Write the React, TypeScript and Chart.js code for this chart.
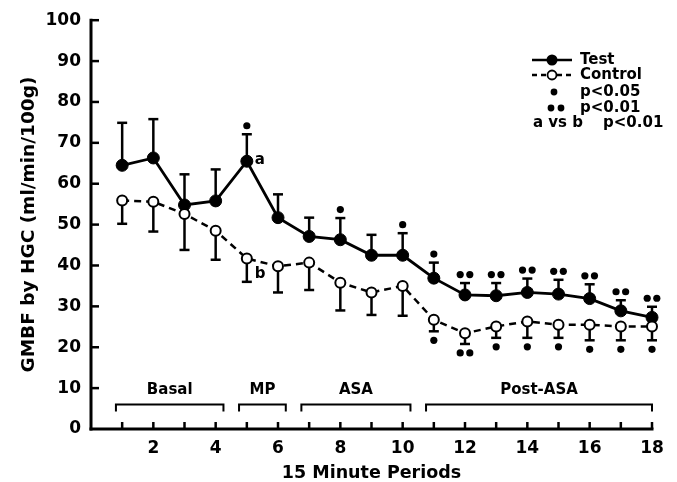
import React, { useEffect, useRef } from 'react';
import { Chart, registerables } from 'chart.js';

Chart.register(...registerables);

// ---- data ----
const periods = [1, 2, 3, 4, 5, 6, 7, 8, 9, 10, 11, 12, 13, 14, 15, 16, 17, 18];
const testMean = [64.5, 66.3, 54.8, 55.8, 65.5, 51.7, 47.1, 46.3, 42.5, 42.5, 36.9, 32.8, 32.6, 33.4, 33.0, 31.9, 28.9, 27.3];
const testUpper = [74.9, 75.8, 62.3, 63.5, 72.1, 57.4, 51.7, 51.6, 47.5, 47.9, 40.7, 35.7, 35.7, 36.8, 36.5, 35.4, 31.5, 29.9];
const controlMean = [55.9, 55.6, 52.6, 48.5, 41.7, 39.8, 40.7, 35.8, 33.4, 35.0, 26.7, 23.4, 25.1, 26.3, 25.5, 25.5, 25.1, 25.1];
const controlLower = [50.2, 48.3, 43.8, 41.4, 36.0, 33.4, 34.0, 29.0, 27.9, 27.7, 23.9, 20.8, 22.3, 22.3, 22.3, 21.7, 21.7, 21.7];
// significance markers: 0 none, 1 = p<0.05 (one dot), 2 = p<0.01 (two dots)
const testSig = [0, 0, 0, 0, 1, 0, 0, 1, 0, 1, 1, 2, 2, 2, 2, 2, 2, 2];
const controlSig = [0, 0, 0, 0, 0, 0, 0, 0, 0, 0, 1, 2, 1, 1, 1, 1, 1, 1];
const periodNames = ['Basal', 'MP', 'ASA', 'Post-ASA'];
const periodStart = [0.8, 4.75, 6.75, 10.75];
const periodEnd = [4.25, 6.25, 10.25, 18];
const xTickLabels = [2, 4, 6, 8, 10, 12, 14, 16, 18];
const yTickValues = [0, 10, 20, 30, 40, 50, 60, 70, 80, 90, 100];
const legendLabels = ['Test', 'Control', 'p<0.05', 'p<0.01'];
const abNote = ['a vs b', 'p<0.01'];
const pointNotes = [
  { series: 'test', index: 4, text: 'a' },
  { series: 'control', index: 4, text: 'b' },
];

const FONT = '"DejaVu Sans", "Liberation Sans", sans-serif';

const overlayPlugin = {
  id: 'overlay',
  beforeDatasetsDraw(chart: any) {
    const { ctx, scales } = chart;
    const x = scales.x;
    const y = scales.y;
    ctx.save();
    ctx.strokeStyle = '#000';
    ctx.lineWidth = 2.5;
    const seg = (x1: number, y1: number, x2: number, y2: number) => {
      ctx.beginPath();
      ctx.moveTo(x1, y1);
      ctx.lineTo(x2, y2);
      ctx.stroke();
    };
    periods.forEach((p, i) => {
      const px = x.getPixelForValue(p);
      const t0 = y.getPixelForValue(testMean[i]);
      const t1 = y.getPixelForValue(testUpper[i]);
      seg(px, t0, px, t1);
      seg(px - 5, t1, px + 5, t1);
      const c0 = y.getPixelForValue(controlMean[i]);
      const c1 = y.getPixelForValue(controlLower[i]);
      seg(px, c0, px, c1);
      seg(px - 5, c1, px + 5, c1);
    });
    ctx.restore();
  },
  afterDraw(chart: any) {
    const { ctx, scales, chartArea } = chart;
    const x = scales.x;
    const y = scales.y;
    const { left, right, bottom, top } = chartArea;
    ctx.save();
    ctx.strokeStyle = '#000';
    ctx.fillStyle = '#000';
    const seg = (x1: number, y1: number, x2: number, y2: number) => {
      ctx.beginPath();
      ctx.moveTo(x1, y1);
      ctx.lineTo(x2, y2);
      ctx.stroke();
    };
    const dot = (cx: number, cy: number, r: number) => {
      ctx.beginPath();
      ctx.arc(cx, cy, r, 0, Math.PI * 2);
      ctx.fill();
    };

    // axes
    ctx.lineWidth = 3;
    ctx.lineCap = 'square';
    seg(left, top, left, bottom);
    seg(left, bottom, right, bottom);
    ctx.lineCap = 'butt';
    // inward ticks
    ctx.lineWidth = 2.5;
    yTickValues.forEach((v) => {
      if (v === 0) return;
      const py = y.getPixelForValue(v);
      seg(left, py, left + 8, py);
    });
    periods.forEach((p) => {
      const px = x.getPixelForValue(p);
      seg(px, bottom, px, bottom - 7);
    });

    // significance dots
    const drawSig = (px: number, cy: number, n: number) => {
      if (n === 1) dot(px, cy, 3.6);
      if (n === 2) {
        dot(px - 4.8, cy, 3.6);
        dot(px + 4.8, cy, 3.6);
      }
    };
    periods.forEach((p, i) => {
      const px = x.getPixelForValue(p);
      drawSig(px, y.getPixelForValue(testUpper[i]) - 8.5, testSig[i]);
      drawSig(px, y.getPixelForValue(controlLower[i]) + 9, controlSig[i]);
    });

    // point notes a / b
    ctx.font = `bold 15px ${FONT}`;
    ctx.textAlign = 'left';
    ctx.textBaseline = 'middle';
    pointNotes.forEach((n) => {
      const px = x.getPixelForValue(periods[n.index]);
      if (n.series === 'test') {
        ctx.fillText(n.text, px + 8, y.getPixelForValue(testMean[n.index]) - 1);
      } else {
        ctx.fillText(n.text, px + 8, y.getPixelForValue(controlMean[n.index]) + 16);
      }
    });

    // period brackets
    ctx.lineWidth = 2;
    const by = y.getPixelForValue(6);
    const bEnd = by + 7;
    ctx.font = `bold 15px ${FONT}`;
    ctx.textAlign = 'center';
    ctx.textBaseline = 'middle';
    periodNames.forEach((name, i) => {
      const x1 = x.getPixelForValue(periodStart[i]);
      const x2 = x.getPixelForValue(periodEnd[i]);
      ctx.beginPath();
      ctx.moveTo(x1, bEnd);
      ctx.lineTo(x1, by);
      ctx.lineTo(x2, by);
      ctx.lineTo(x2, bEnd);
      ctx.stroke();
      ctx.fillText(name, (x1 + x2) / 2, by - 14);
    });

    // legend
    const lx1 = 532;
    const lx2 = 572;
    const lxc = 552;
    const tx = 580;
    const rows = [60, 75, 92, 108, 123];
    ctx.lineWidth = 2.5;
    seg(lx1, rows[0], lx2, rows[0]);
    dot(lxc, rows[0], 5.5);
    ctx.setLineDash([5, 4]);
    seg(lx1, rows[1], lxc - 5, rows[1]);
    seg(lxc + 5, rows[1], lx2, rows[1]);
    ctx.setLineDash([]);
    ctx.lineWidth = 1.8;
    ctx.beginPath();
    ctx.arc(lxc, rows[1], 4.5, 0, Math.PI * 2);
    ctx.fillStyle = '#fff';
    ctx.fill();
    ctx.stroke();
    ctx.fillStyle = '#000';
    dot(554, rows[2], 3.4);
    dot(551, rows[3], 3.4);
    dot(561, rows[3], 3.4);
    ctx.font = `bold 15px ${FONT}`;
    ctx.textAlign = 'left';
    ctx.textBaseline = 'middle';
    legendLabels.forEach((l, i) => ctx.fillText(l, tx, rows[i]));
    ctx.fillText(abNote[0], 533, rows[4]);
    ctx.fillText(abNote[1], 603, rows[4]);

    ctx.restore();
  },
};

export default function App() {
  const ref = useRef<HTMLCanvasElement | null>(null);
  useEffect(() => {
    if (!ref.current) return;
    const chart = new Chart(ref.current, {
      type: 'line',
      data: {
        datasets: [
          {
            label: 'Control',
            data: periods.map((p, i) => ({ x: p, y: controlMean[i] })),
            borderColor: '#000',
            borderWidth: 2.5,
            borderDash: [7, 5],
            pointRadius: 5,
            pointBackgroundColor: '#fff',
            pointBorderColor: '#000',
            pointBorderWidth: 2,
            tension: 0,
            clip: false,
          },
          {
            label: 'Test',
            data: periods.map((p, i) => ({ x: p, y: testMean[i] })),
            borderColor: '#000',
            borderWidth: 2.8,
            pointRadius: 6,
            pointBackgroundColor: '#000',
            pointBorderColor: '#000',
            pointBorderWidth: 1,
            tension: 0,
            clip: false,
          },
        ],
      },
      options: {
        responsive: false,
        animation: false,
        events: [],
        layout: { padding: { left: 0, right: 25, top: 17, bottom: 0 } },
        plugins: { legend: { display: false }, tooltip: { enabled: false } },
        scales: {
          x: {
            type: 'linear',
            min: 0,
            max: 18,
            grid: { display: false, drawTicks: false },
            border: { display: false },
            ticks: {
              stepSize: 1,
              autoSkip: false,
              maxRotation: 0,
              padding: 9,
              color: '#000',
              font: { family: FONT, size: 17, weight: 'bold' },
              callback: (v: any) => (xTickLabels.includes(Number(v)) ? String(v) : ''),
            },
            title: {
              display: true,
              text: '15 Minute Periods',
              color: '#000',
              font: { family: FONT, size: 17.5, weight: 'bold', lineHeight: 1 },
              padding: { top: 0, bottom: 0 },
            },
            afterFit: (s: any) => {
              s.height = 53;
            },
          },
          y: {
            min: 0,
            max: 100,
            grid: { display: false, drawTicks: false },
            border: { display: false },
            ticks: {
              stepSize: 10,
              padding: 10,
              color: '#000',
              font: { family: FONT, size: 17, weight: 'bold' },
            },
            title: {
              display: true,
              text: 'GMBF by HGC (ml/min/100g)',
              color: '#000',
              font: { family: FONT, size: 18.5, weight: 'bold', lineHeight: 1.2 },
              padding: { top: 18, bottom: 0 },
            },
            afterFit: (s: any) => {
              s.width = 91;
            },
          },
        },
      },
      plugins: [overlayPlugin],
    } as any);
    return () => chart.destroy();
  }, []);
  return (
    <div style={{ position: 'absolute', left: 0, top: 0, width: 677, height: 482, background: '#fff' }}>
      <canvas ref={ref} width={677} height={482} />
    </div>
  );
}
